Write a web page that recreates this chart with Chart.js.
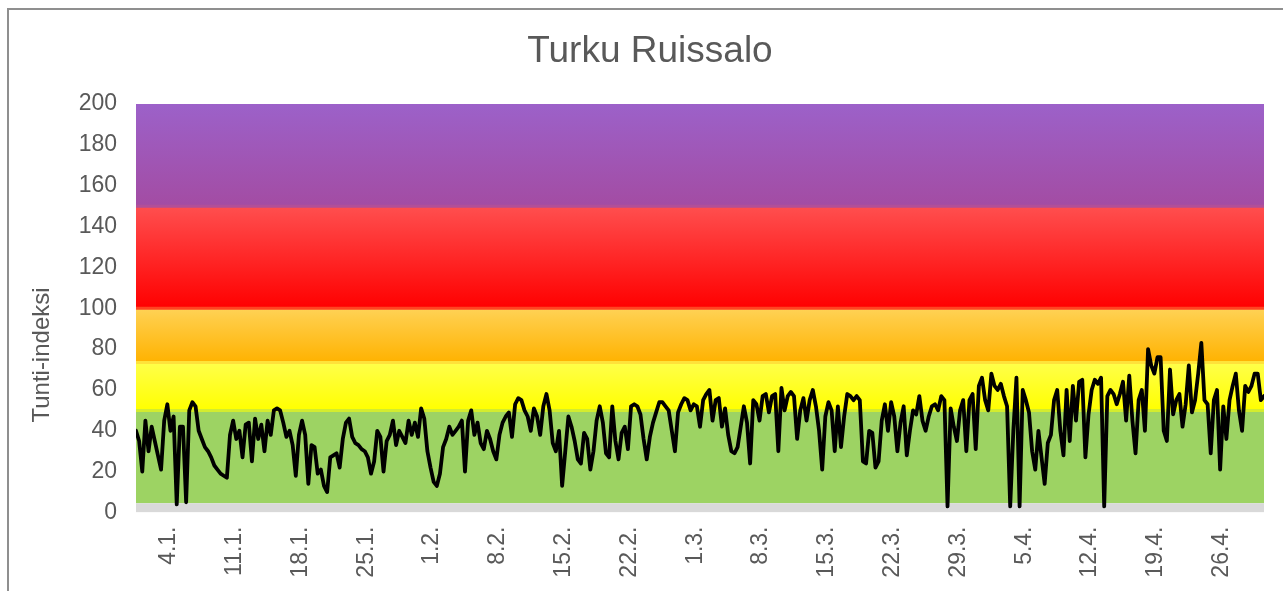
<!DOCTYPE html>
<html><head><meta charset="utf-8">
<script src="https://cdn.jsdelivr.net/npm/chart.js@4.4.1/dist/chart.umd.min.js"></script>
<style>
html,body{margin:0;padding:0;background:#fff;overflow:hidden;}
#wrap{position:relative;width:1283px;height:591px;}
#frame{position:absolute;left:7px;top:8px;width:1400px;height:800px;border-top:2px solid #8f8f8f;border-left:2px solid #8f8f8f;pointer-events:none;}
canvas{position:absolute;left:0;top:0;}
</style></head><body>
<div id="wrap"><canvas id="c" width="1283" height="591"></canvas><div id="frame"></div></div>
<script>
const chartTitle = 'Turku Ruissalo';
const yAxisTitle = 'Tunti-indeksi';
const stepHours = 8;           // one reading per 8 hours, starting 1.1. 00:00
const indexValues = [
 40,35,20, 45,30,42, 35,28,21, 45,53,40, 47,4,42, 42,5,50, 54,52,40, 36,32,30, 27,23,21, 19,18,17,
 38,45,36, 40,27,43, 44,25,46, 36,43,30, 45,38,50, 51,50,44, 37,40,33, 18,38,45, 38,14,33, 32,19,21,
 13,10,27, 28,29,22, 36,44,46, 37,34,33, 31,30,27, 19,25,40, 37,20,35, 38,45,33, 40,37,34, 45,38,44,
 37,51,46, 30,22,15, 13,19,32, 36,42,38, 40,42,45, 20,45,50, 38,44,34, 31,40,36, 30,26,38, 44,47,49,
 37,53,56, 55,50,47, 40,51,47, 38,52,58, 50,34,30, 40,13,30, 47,42,35, 26,24,39, 36,21,30, 45,52,44,
 29,27,52, 35,26,39, 42,31,52, 53,52,48, 36,26,37, 44,49,54, 54,52,50, 40,30,49, 53,56,55, 50,53,52,
 42,55,58, 60,45,55, 56,42,51, 38,30,29, 32,42,52, 44,24,55, 53,45,57, 58,49,57, 58,30,61, 50,57,59,
 57,36,50, 56,45,55, 60,52,40, 21,47,54, 50,30,52, 32,47,58, 57,55,57, 55,25,24, 40,39,22, 25,45,53,
 40,54,47, 30,44,52, 28,40,50, 48,57,45, 40,47,52, 53,50,57, 55,3,51, 42,35,50, 55,30,55, 58,31,62,
 66,55,50, 68,62,60, 63,57,52, 3,40,66, 3,60,55, 49,30,21, 40,27,14, 34,38,55, 60,40,28, 60,35,62,
 45,64,65, 27,48,60, 65,63,66, 3,57,60, 58,53,58, 64,45,67, 45,29,55, 60,40,80, 72,68,76, 76,40,35,
 70,48,55, 58,42,53, 72,49,55, 68,83,55, 53,29,55, 60,21,52, 36,55,62, 68,50,40, 62,59,62, 68,68,55,
 57
];
const xTickLabels = ['4.1.','11.1.','18.1.','25.1.','1.2.','8.2.','15.2.','22.2.','1.3.','8.3.','15.3.','22.3.','29.3.','5.4.','12.4.','19.4.','26.4.'];
const yTickValues = [0,20,40,60,80,100,120,140,160,180,200];
const bandLimits = [0, 4.5, 50, 73.5, 100, 150, 200];
const bandTopColors    = ['#d9d9d9','#9dd363','#ffff4a','#ffd255','#ff4f4f','#9c61c9'];
const bandBottomColors = ['#d9d9d9','#9dd363','#ffff00','#ffb200','#ff0000','#a34ca3'];
const bandEdgeColors   = [null,'#d3ec2e','#ffe23a','#ff4422','#b24f98',null];

const daysInMonthsBefore = [0,31,59,90,120];
function labelToDay(lbl){ const p = lbl.split('.'); return daysInMonthsBefore[+p[1]-1] + (+p[0]) - 1 + 0.5; }
const xTickPositions = xTickLabels.map(labelToDay);
const totalDays = (indexValues.length - 1) * stepHours / 24;

const FONT = "'Liberation Sans', Arial, sans-serif";
const TXT = '#595959';

function bandGradient(i){
  return (ctx) => {
    const ch = ctx.chart;
    if (!ch.chartArea) return bandBottomColors[i];
    const ys = ch.scales.y;
    const g = ch.ctx.createLinearGradient(0, ys.getPixelForValue(bandLimits[i+1]), 0, ys.getPixelForValue(bandLimits[i]));
    g.addColorStop(0, bandTopColors[i]);
    g.addColorStop(1, bandBottomColors[i]);
    return g;
  };
}

const datasets = [{
  label: 'Tunti-indeksi',
  data: indexValues.map((v,i)=>({x: i*stepHours/24, y: v})),
  borderColor: '#000000', borderWidth: 3.8, pointRadius: 0, tension: 0, fill: false,
  borderJoinStyle: 'round', borderCapStyle: 'round'
}];
for (let i = 0; i < bandLimits.length - 1; i++) {
  datasets.push({
    label: 'band' + i,
    data: [{x: 0, y: bandLimits[i+1]}, {x: totalDays, y: bandLimits[i+1]}],
    fill: {value: bandLimits[i]},
    backgroundColor: bandGradient(i),
    borderColor: bandEdgeColors[i] || 'rgba(0,0,0,0)',
    borderWidth: bandEdgeColors[i] ? 3 : 0,
    pointRadius: 0, tension: 0
  });
}

const yTitlePlugin = {
  id: 'yTitle',
  afterDraw(chart){
    const c = chart.ctx;
    c.save();
    c.font = '24px ' + FONT;
    c.fillStyle = TXT;
    c.textAlign = 'center';
    c.textBaseline = 'middle';
    c.translate(42, 355);
    c.rotate(-Math.PI/2);
    c.fillText(yAxisTitle, 0, 0);
    c.restore();
  }
};

new Chart(document.getElementById('c'), {
  type: 'line',
  data: { datasets },
  plugins: [yTitlePlugin],
  options: {
    responsive: false, animation: false,
    layout: { padding: { left: 36, right: 19, top: 0, bottom: 0 } },
    plugins: {
      legend: { display: false }, tooltip: { enabled: false },
      title: { display: true, text: chartTitle, color: TXT,
               font: { family: FONT, size: 37, weight: 'normal' },
               padding: { top: 30, bottom: 29.6 } }
    },
    scales: {
      x: {
        type: 'linear', min: 0, max: totalDays,
        grid: { display: false, drawTicks: false }, border: { display: false },
        afterBuildTicks: (s) => { s.ticks = xTickPositions.map(v => ({value: v})); },
        afterFit: (s) => { s.height = 78.5; },
        ticks: {
          autoSkip: false, minRotation: 90, maxRotation: 90, padding: 14,
          color: TXT, font: { family: FONT, size: 23 },
          callback: (v) => { const k = xTickPositions.findIndex(p => Math.abs(p - v) < 1e-6); return k >= 0 ? xTickLabels[k] : ''; }
        }
      },
      y: {
        min: 0, max: 200,
        grid: { display: false, drawTicks: false }, border: { display: false },
        afterBuildTicks: (s) => { s.ticks = yTickValues.map(v => ({value: v})); },
        afterFit: (s) => { s.width = 100; },
        ticks: { padding: 19, color: TXT, font: { family: FONT, size: 23 } }
      }
    }
  }
});
</script>
</body></html>
